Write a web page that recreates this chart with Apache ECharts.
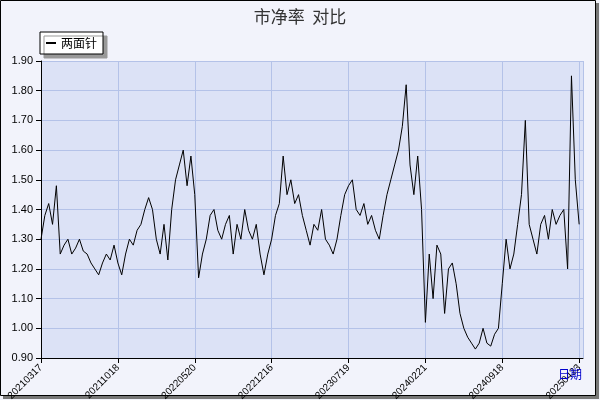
<!DOCTYPE html><html><head><meta charset="utf-8"><script src="https://cdn.jsdelivr.net/npm/echarts@6/dist/echarts.min.js"></script>
<style>body{margin:0;background:#fff}#c{width:600px;height:400px}</style></head><body><div id="c"></div><script>
const tickLabels=['20210317','20211018','20220520','20221216','20230719','20240221','20240918','20250423'];
const seg1=[1.30,1.38,1.42,1.35,1.48,1.25,1.28,1.30,1.25,1.27,1.30,1.26,1.25,1.22,1.20,1.18,1.22,1.25,1.23,1.28];
const seg2=[1.22,1.18,1.25,1.30,1.28,1.33,1.35,1.40,1.44,1.40,1.30,1.25,1.35,1.23,1.40,1.50,1.55,1.60,1.48,1.58];
const seg3=[1.45,1.17,1.25,1.30,1.38,1.40,1.33,1.30,1.35,1.38,1.25,1.35,1.30,1.40,1.33,1.30,1.35,1.25,1.18,1.25];
const seg4=[1.30,1.38,1.42,1.58,1.45,1.50,1.42,1.45,1.38,1.33,1.28,1.35,1.33,1.40,1.30,1.28,1.25,1.30,1.38,1.45];
const seg5=[1.48,1.50,1.40,1.38,1.42,1.35,1.38,1.33,1.30,1.38,1.45,1.50,1.55,1.60,1.68,1.82,1.55,1.45,1.58,1.40];
const seg6=[1.02,1.25,1.10,1.28,1.25,1.05,1.20,1.22,1.15,1.05,1.00,0.97,0.95,0.93,0.95,1.00,0.95,0.94,0.98,1.00];
const seg7=[1.15,1.30,1.20,1.25,1.35,1.45,1.70,1.35,1.30,1.25,1.35,1.38,1.30,1.40,1.35,1.38,1.40,1.20,1.85,1.50];
const tail=[1.35];
const values=[].concat(seg1,seg2,seg3,seg4,seg5,seg6,seg7,tail);
const ch=echarts.init(document.getElementById('c'));
ch.setOption({
 backgroundColor:'#f2f3fb',animation:false,
 title:{text:'市净率  对比',left:'center',top:3,textStyle:{fontSize:17,fontWeight:'normal',color:'#333',fontFamily:'Noto Sans CJK SC'}},
 legend:{left:40,top:32,itemWidth:10,itemHeight:2,icon:'rect',backgroundColor:'#fff',borderColor:'#000',borderWidth:1,borderRadius:0,padding:[5,6],shadowColor:'#999',shadowOffsetX:4,shadowOffsetY:4,textStyle:{fontSize:12,color:'#000',fontFamily:'Noto Sans CJK SC'}},
 grid:{left:41,right:17,top:61,bottom:42,show:true,backgroundColor:'#dce2f6',borderWidth:0,outerBoundsMode:'none'},
 xAxis:{type:'value',min:0,max:141,interval:20,
  axisLine:{lineStyle:{color:'#000'}},axisTick:{show:true,lineStyle:{color:'#000'}},
  axisLabel:{rotate:45,fontSize:10,color:'#000',showMaxLabel:false,formatter:v=>tickLabels[v/20]||''},
  splitLine:{lineStyle:{color:'#b4c2e8'}}},
 yAxis:{type:'value',min:0.9,max:1.9,interval:0.1,axisLine:{show:true,lineStyle:{color:'#000'}},axisTick:{show:true,lineStyle:{color:'#000'}},
  axisLabel:{fontSize:11,color:'#000',formatter:v=>v.toFixed(2)},splitLine:{lineStyle:{color:'#b4c2e8'}}},
 series:[{name:'两面针',type:'line',data:values.map((v,i)=>[i,v]),symbol:'none',lineStyle:{color:'#000',width:1},itemStyle:{color:'#000'}}],
 graphic:[{type:'rect',shape:{x:3,y:3,width:596,height:396},style:{fill:'#777'},z:-10,silent:true},
  {type:'rect',shape:{x:0.5,y:0.5,width:595,height:395},style:{fill:'#f2f3fb',stroke:'#000',lineWidth:1},z:-9,silent:true},
  {type:'text',right:18,top:368,style:{text:'日期',fill:'#0000cc',fontSize:12,fontFamily:'Noto Sans CJK SC'},z:10}]
});
</script></body></html>
